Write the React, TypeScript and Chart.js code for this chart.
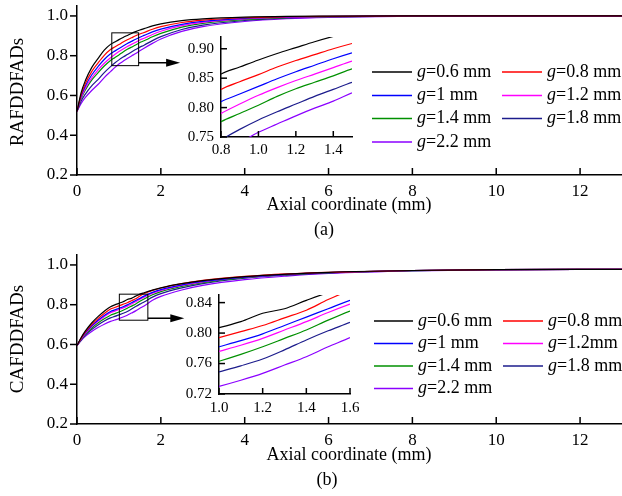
import React, { useEffect, useRef } from 'react';
import { Chart, registerables } from 'chart.js';
Chart.register(...registerables);

const FONT = "'Liberation Serif', 'Times New Roman', serif";

// Axial coordinate (mm)
const axialX = [0, 0.1, 0.2, 0.35, 0.5, 0.65, 0.8, 0.9, 1.0, 1.1, 1.2, 1.3, 1.4, 1.5, 1.6, 1.8, 2.0, 2.5, 3, 4, 5, 6, 8, 10, 13];

// (a) RAFDDFADs
const rafG06 = [0.52, 0.615, 0.675, 0.74, 0.785, 0.828, 0.857, 0.869, 0.881, 0.892, 0.902, 0.912, 0.921, 0.929, 0.936, 0.950, 0.960, 0.976, 0.985, 0.994, 0.998, 0.999, 1.0, 1.0, 1.0];
const rafG08 = [0.52, 0.605, 0.66, 0.72, 0.763, 0.802, 0.831, 0.844, 0.856, 0.869, 0.880, 0.890, 0.900, 0.909, 0.917, 0.933, 0.946, 0.967, 0.979, 0.991, 0.996, 0.998, 1.0, 1.0, 1.0];
const rafG10 = [0.52, 0.598, 0.648, 0.703, 0.745, 0.781, 0.810, 0.823, 0.836, 0.849, 0.861, 0.872, 0.883, 0.893, 0.902, 0.920, 0.934, 0.958, 0.973, 0.988, 0.995, 0.998, 1.0, 1.0, 1.0];
const rafG12 = [0.52, 0.59, 0.637, 0.688, 0.728, 0.762, 0.790, 0.806, 0.821, 0.834, 0.846, 0.857, 0.868, 0.879, 0.888, 0.907, 0.923, 0.951, 0.968, 0.985, 0.993, 0.997, 1.0, 1.0, 1.0];
const rafG14 = [0.52, 0.585, 0.628, 0.677, 0.714, 0.748, 0.776, 0.790, 0.804, 0.819, 0.832, 0.843, 0.854, 0.866, 0.875, 0.895, 0.912, 0.944, 0.963, 0.982, 0.992, 0.996, 0.999, 1.0, 1.0];
const rafG18 = [0.52, 0.572, 0.607, 0.648, 0.68, 0.715, 0.745, 0.763, 0.779, 0.793, 0.806, 0.819, 0.831, 0.843, 0.853, 0.876, 0.896, 0.932, 0.954, 0.977, 0.989, 0.995, 0.999, 1.0, 1.0];
const rafG22 = [0.52, 0.56, 0.59, 0.625, 0.655, 0.69, 0.720, 0.740, 0.758, 0.772, 0.786, 0.799, 0.811, 0.825, 0.838, 0.862, 0.884, 0.922, 0.946, 0.972, 0.986, 0.993, 0.998, 1.0, 1.0];

// (b) CAFDDFADs
const cafG06 = [0.595, 0.635, 0.668, 0.708, 0.740, 0.767, 0.790, 0.799, 0.807, 0.815, 0.826, 0.832, 0.843, 0.853, 0.860, 0.873, 0.885, 0.906, 0.921, 0.941, 0.954, 0.963, 0.972, 0.976, 0.978];
const cafG08 = [0.595, 0.632, 0.663, 0.700, 0.730, 0.756, 0.778, 0.786, 0.794, 0.802, 0.810, 0.820, 0.830, 0.844, 0.856, 0.872, 0.884, 0.906, 0.922, 0.942, 0.955, 0.963, 0.972, 0.976, 0.978];
const cafG10 = [0.595, 0.630, 0.659, 0.694, 0.722, 0.746, 0.766, 0.774, 0.782, 0.790, 0.799, 0.810, 0.821, 0.832, 0.843, 0.862, 0.876, 0.900, 0.917, 0.939, 0.953, 0.962, 0.972, 0.976, 0.978];
const cafG12 = [0.595, 0.628, 0.656, 0.690, 0.717, 0.740, 0.760, 0.768, 0.776, 0.784, 0.793, 0.804, 0.815, 0.827, 0.838, 0.858, 0.872, 0.897, 0.915, 0.938, 0.952, 0.962, 0.972, 0.976, 0.978];
const cafG14 = [0.595, 0.626, 0.652, 0.683, 0.708, 0.729, 0.747, 0.755, 0.763, 0.772, 0.782, 0.793, 0.804, 0.817, 0.829, 0.850, 0.866, 0.892, 0.911, 0.936, 0.951, 0.961, 0.971, 0.976, 0.978];
const cafG18 = [0.595, 0.623, 0.647, 0.675, 0.698, 0.718, 0.734, 0.741, 0.749, 0.757, 0.766, 0.778, 0.791, 0.803, 0.814, 0.838, 0.856, 0.885, 0.906, 0.933, 0.949, 0.960, 0.971, 0.976, 0.978];
const cafG22 = [0.595, 0.620, 0.641, 0.665, 0.685, 0.702, 0.716, 0.723, 0.730, 0.738, 0.747, 0.758, 0.769, 0.782, 0.794, 0.822, 0.842, 0.874, 0.897, 0.926, 0.944, 0.957, 0.970, 0.975, 0.978];

const labelsA = ['=0.6 mm', '=0.8 mm', '=1 mm', '=1.2 mm', '=1.4 mm', '=1.8 mm', '=2.2 mm'];
const labelsB = ['=0.6 mm', '=0.8 mm', '=1 mm', '=1.2mm', '=1.4 mm', '=1.8 mm', '=2.2 mm'];
const colors = ['#000000', '#ff0000', '#0000ff', '#ff00ff', '#009000', '#1c1c8c', '#8b00ff'];

const mainXTicks = [0, 2, 4, 6, 8, 10, 12];
const mainYTicks = [0.2, 0.4, 0.6, 0.8, 1.0];
const insetAXTicks = [0.8, 1.0, 1.2, 1.4];
const insetAYTicks = [0.75, 0.8, 0.85, 0.9];
const insetBXTicks = [1.0, 1.2, 1.4, 1.6];
const insetBYTicks = [0.72, 0.76, 0.8, 0.84];

function makeDatasets(series: number[][], labels: string[]) {
  return series.map((ys, i) => ({
    label: labels[i],
    data: axialX.map((x, j) => ({ x, y: ys[j] })),
    borderColor: colors[i],
    backgroundColor: colors[i],
    borderWidth: 1.2,
    pointRadius: 0,
    cubicInterpolationMode: 'monotone',
    fill: false,
  }));
}

function xScale(min: number, max: number, ticks: number[], digits: number, size: number, padding: number, height: number) {
  return {
    type: 'linear', min, max,
    grid: { display: false, drawTicks: false, tickLength: 0 },
    border: { display: true, color: '#000', width: 1.5 },
    ticks: {
      color: '#000', font: { family: FONT, size }, padding, autoSkip: false, maxRotation: 0,
      callback: (v: any) => Number(v).toFixed(digits),
    },
    afterBuildTicks: (s: any) => { s.ticks = ticks.map((v) => ({ value: v })); },
    afterFit: (s: any) => { s.height = height; s.paddingLeft = 0; s.paddingRight = 0; },
  };
}

function yScale(min: number, max: number, ticks: number[], digits: number, size: number, padding: number, width: number) {
  return {
    type: 'linear', min, max,
    grid: { display: false, drawTicks: false, tickLength: 0 },
    border: { display: true, color: '#000', width: 1.5 },
    ticks: {
      color: '#000', font: { family: FONT, size }, padding, autoSkip: false,
      callback: (v: any) => Number(v).toFixed(digits),
    },
    afterBuildTicks: (s: any) => { s.ticks = ticks.map((v) => ({ value: v })); },
    afterFit: (s: any) => { s.width = width; s.paddingTop = 0; s.paddingBottom = 0; },
  };
}

const tickMarks = {
  id: 'tickMarks',
  afterDraw(chart: any, _a: any, o: any) {
    const ctx = chart.ctx;
    const x = chart.scales.x, y = chart.scales.y;
    ctx.save();
    ctx.strokeStyle = '#000';
    ctx.lineWidth = 1.5;
    x.ticks.forEach((t: any) => {
      const px = x.getPixelForValue(t.value);
      ctx.beginPath();
      ctx.moveTo(px, x.top);
      ctx.lineTo(px, x.top + o.xLen * o.xDir);
      ctx.stroke();
    });
    y.ticks.forEach((t: any) => {
      const py = y.getPixelForValue(t.value);
      ctx.beginPath();
      ctx.moveTo(y.right, py);
      ctx.lineTo(y.right + o.yLen * o.yDir, py);
      ctx.stroke();
    });
    ctx.restore();
  },
};

const decor = {
  id: 'decor',
  afterDraw(chart: any, _a: any, o: any) {
    if (!o || !o.rect) return;
    const ctx = chart.ctx;
    const x = chart.scales.x, y = chart.scales.y;
    ctx.save();
    // zoom box
    const rx0 = x.getPixelForValue(o.rect[0]), rx1 = x.getPixelForValue(o.rect[1]);
    const ry0 = y.getPixelForValue(o.rect[3]), ry1 = y.getPixelForValue(o.rect[2]);
    ctx.strokeStyle = '#000';
    ctx.fillStyle = '#000';
    ctx.lineWidth = 1;
    ctx.strokeRect(rx0, ry0, rx1 - rx0, ry1 - ry0);
    // arrow
    const ay = y.getPixelForValue(o.arrowY);
    const ax = x.getPixelForValue(o.arrowX);
    ctx.lineWidth = 1.5;
    ctx.beginPath(); ctx.moveTo(rx1, ay); ctx.lineTo(ax - 10, ay); ctx.stroke();
    ctx.beginPath(); ctx.moveTo(ax, ay); ctx.lineTo(ax - 14, ay - 4); ctx.lineTo(ax - 14, ay + 4); ctx.closePath(); ctx.fill();
    // titles
    ctx.textAlign = 'center';
    ctx.textBaseline = 'middle';
    ctx.font = `18px ${FONT}`;
    ctx.fillText('Axial coordinate (mm)', o.xTitle[0], o.xTitle[1]);
    ctx.fillText(o.panel, o.panelPos[0], o.panelPos[1]);
    ctx.save();
    ctx.translate(o.yTitle[0], o.yTitle[1]);
    ctx.rotate(-Math.PI / 2);
    ctx.font = `19px ${FONT}`;
    ctx.fillText(o.yText, 0, 0);
    ctx.restore();
    // legend
    ctx.textAlign = 'left';
    o.labels.forEach((lab: string, i: number) => {
      const col = o.legCols[i % 2];
      const ly = o.legRows[Math.floor(i / 2)];
      ctx.strokeStyle = colors[i];
      ctx.lineWidth = 1.5;
      ctx.beginPath(); ctx.moveTo(col[0], ly); ctx.lineTo(col[1], ly); ctx.stroke();
      ctx.fillStyle = '#000';
      ctx.font = `italic 18px ${FONT}`;
      ctx.fillText('g', col[2], ly);
      const gw = ctx.measureText('g').width;
      ctx.font = `18px ${FONT}`;
      ctx.fillText(lab, col[2] + gw, ly);
    });
    ctx.restore();
  },
};

function baseOptions(padding: any, scales: any, plugins: any) {
  return {
    animation: false,
    responsive: false,
    maintainAspectRatio: false,
    devicePixelRatio: 1,
    events: [],
    layout: { padding },
    plugins: { legend: { display: false }, tooltip: { enabled: false }, ...plugins },
    scales,
  };
}

export default function App() {
  const aMain = useRef<HTMLCanvasElement>(null);
  const aInset = useRef<HTMLCanvasElement>(null);
  const bMain = useRef<HTMLCanvasElement>(null);
  const bInset = useRef<HTMLCanvasElement>(null);

  useEffect(() => {
    const rafSeries = [rafG06, rafG08, rafG10, rafG12, rafG14, rafG18, rafG22];
    const cafSeries = [cafG06, cafG08, cafG10, cafG12, cafG14, cafG18, cafG22];
    const charts: Chart[] = [];

    charts.push(new Chart(aMain.current!, {
      type: 'line',
      data: { datasets: makeDatasets(rafSeries, labelsA) as any },
      options: baseOptions(
        { left: 0, top: 6, right: 0, bottom: 0 },
        { x: xScale(0, 13, mainXTicks, 0, 17, 6, 73), y: yScale(0.2, 1.05, mainYTicks, 1, 17, 9, 77) },
        {
          tickMarks: { xLen: 7, xDir: -1, yLen: 7, yDir: -1 },
          decor: {
            rect: [0.83, 1.47, 0.75, 0.915], arrowY: 0.765, arrowX: 2.46,
            xTitle: [349, 205], panel: '(a)', panelPos: [324, 230], yTitle: [18, 92], yText: 'RAFDDFADs',
            labels: labelsA, legRows: [72, 95.5, 118.5, 142], legCols: [[372, 412, 417], [502, 542, 547]],
          },
        }
      ) as any,
      plugins: [tickMarks, decor],
    }));

    charts.push(new Chart(aInset.current!, {
      type: 'line',
      data: { datasets: makeDatasets(rafSeries, labelsA) as any },
      options: baseOptions(
        { left: 0, top: 10, right: 8, bottom: 0 },
        { x: xScale(0.8, 1.5, insetAXTicks, 1, 15, 4, 30), y: yScale(0.75, 0.92, insetAYTicks, 2, 15, 7, 61) },
        { tickMarks: { xLen: 6, xDir: -1, yLen: 6, yDir: 1 }, decor: {} }
      ) as any,
      plugins: [tickMarks],
    }));

    charts.push(new Chart(bMain.current!, {
      type: 'line',
      data: { datasets: makeDatasets(cafSeries, labelsB) as any },
      options: baseOptions(
        { left: 0, top: 7, right: 0, bottom: 0 },
        { x: xScale(0, 13, mainXTicks, 0, 17, 6, 72), y: yScale(0.2, 1.05, mainYTicks, 1, 17, 9, 77) },
        {
          tickMarks: { xLen: 7, xDir: -1, yLen: 7, yDir: -1 },
          decor: {
            rect: [1.01, 1.69, 0.722, 0.853], arrowY: 0.732, arrowX: 2.56,
            xTitle: [349, 207], panel: '(b)', panelPos: [327, 232], yTitle: [18, 91], yText: 'CAFDDFADs',
            labels: labelsB, legRows: [73, 95.5, 118, 140.5], legCols: [[374, 413, 418], [503, 543, 548]],
          },
        }
      ) as any,
      plugins: [tickMarks, decor],
    }));

    charts.push(new Chart(bInset.current!, {
      type: 'line',
      data: { datasets: makeDatasets(cafSeries, labelsB) as any },
      options: baseOptions(
        { left: 0, top: 10, right: 10, bottom: 0 },
        { x: xScale(1.0, 1.6, insetBXTicks, 1, 15, 5, 31), y: yScale(0.72, 0.85, insetBYTicks, 2, 15, 7, 59) },
        { tickMarks: { xLen: 6, xDir: -1, yLen: 6, yDir: 1 }, decor: {} }
      ) as any,
      plugins: [tickMarks],
    }));

    return () => { charts.forEach((c) => c.destroy()); };
  }, []);

  const abs = (left: number, top: number, w: number, h: number): React.CSSProperties => ({
    position: 'absolute', left, top, width: w, height: h,
  });

  return (
    <div style={{ position: 'absolute', left: 0, top: 0, width: 622, height: 496, background: '#fff', overflow: 'hidden' }}>
      <canvas ref={aMain} width={622} height={248} style={abs(0, 0, 622, 248)} />
      <canvas ref={aInset} width={200} height={140} style={abs(160, 27, 200, 140)} />
      <canvas ref={bMain} width={622} height={248} style={abs(0, 248, 622, 248)} />
      <canvas ref={bInset} width={200} height={140} style={abs(160, 285, 200, 140)} />
    </div>
  );
}
